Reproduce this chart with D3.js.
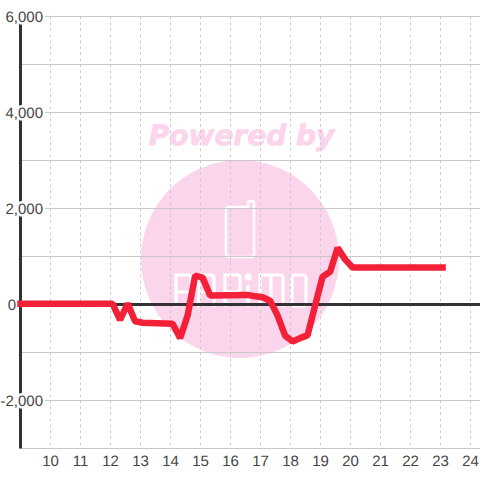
<!DOCTYPE html>
<html><head><meta charset="utf-8">
<script src="https://cdn.jsdelivr.net/npm/d3@7/dist/d3.min.js"></script>
<style>html,body{margin:0;padding:0;background:#fff}svg{display:block}text{text-rendering:geometricPrecision}</style></head>
<body><svg id="c" width="480" height="480"></svg>
<script>
const hours=[9,12.07,12.32,12.57,12.82,13.07,14.07,14.32,14.57,14.82,15.07,15.32,16.57,16.82,17.07,17.32,17.57,17.82,18.07,18.32,18.57,18.82,19.07,19.32,19.57,19.82,20.07,23.07];
const values=[15,15,-320,20,-350,-380,-400,-700,-230,600,560,190,200,170,150,80,-230,-650,-770,-700,-640,-20,580,680,1180,940,770,770];
const xTicks=[10,11,12,13,14,15,16,17,18,19,20,21,22,23,24];
const yTicks=[-2000,2000,4000,6000];
const zeroTick=[0];
const yGrid=[-3000,-2000,-1000,0,1000,2000,3000,4000,5000,6000];
const svg=d3.select("#c");
const x=d3.scaleLinear().domain([9,24.33]).range([20.5,480.4]);
const y=d3.scaleLinear().domain([-3000,6000]).range([448.5,16.5]);
const fmt=d3.format(",");
const pink="#fbd5ec";
const wm=svg.append("g");
wm.append("circle").attr("cx",240).attr("cy",259).attr("r",99).attr("fill",pink);
wm.append("text").attr("x",241.5).attr("y",145).attr("text-anchor","middle")
 .attr("font-family","DejaVu Sans").attr("font-weight","bold").attr("font-style","italic")
 .attr("font-size",28).attr("fill",pink).attr("stroke",pink).attr("stroke-width",0.8).text("Powered by");
wm.append("path").attr("d","M229 207H248V203Q248 201 251 201Q254 201 254 203V254Q254 257 251 257H229Q226 257 226 254V210Q226 207 229 207Z")
 .attr("fill","none").attr("stroke","#fff").attr("stroke-width",2.5);
wm.append("path").attr("d","M176 307V275H188Q191 275 191 278V289Q191 292 188 292H176M199 307V278Q199 275 202 275H211Q214 275 214 278V307M199 292H214M225 307V275H237Q240 275 240 278V289Q240 292 237 292H225M248 285V307M260 307V275H280Q283 275 283 278V307M271 275V307M292 278Q292 275 295 275H303Q306 275 306 278V303Q306 306 303 306H295Q292 306 292 303Z")
 .attr("fill","none").attr("stroke","#fff").attr("stroke-width",3.2);
wm.append("circle").attr("cx",248).attr("cy",277).attr("r",3.5).attr("fill","#fff");
svg.selectAll("line.v").data(xTicks).join("line").attr("class","v")
 .attr("x1",d=>x(d)).attr("x2",d=>x(d)).attr("y1",y(6000)).attr("y2",y(-3000))
 .attr("stroke","#c8c8c8").attr("stroke-dasharray","2.5,3.5");
svg.selectAll("line.h").data(yGrid).join("line").attr("class","h")
 .attr("x1",x(9)).attr("x2",480).attr("y1",d=>y(d)).attr("y2",d=>y(d))
 .attr("stroke","#c8c8c8").attr("stroke-width",1);
svg.append("line").attr("x1",x(9)).attr("x2",x(9)).attr("y1",y(6000)).attr("y2",y(-3000))
 .attr("stroke","#333").attr("stroke-width",3);
const lab={"font-family":"Liberation Sans","font-size":15,"fill":"#444"};
const yl=svg.selectAll("text.yl").data(yTicks).join("text").attr("class","yl")
 .attr("x",43).attr("y",d=>y(d)+5).attr("text-anchor","end")
 .attr("stroke","#fff").attr("stroke-width",5).attr("paint-order","stroke").text(d=>fmt(d).replace("−","-"));
const zl=svg.selectAll("text.zl").data(zeroTick).join("text").attr("class","zl")
 .attr("x",16).attr("y",d=>y(d)+5).attr("text-anchor","end").text(d=>d);
svg.append("line").attr("x1",x(9)).attr("x2",480).attr("y1",y(0)).attr("y2",y(0))
 .attr("stroke","#333").attr("stroke-width",3);
const line=d3.line().x((d,i)=>x(hours[i])).y(d=>y(d)).curve(d3.curveLinear);
svg.append("path").attr("d",line(values)).attr("fill","none").attr("stroke","#f32138")
 .attr("stroke-width",6.5).attr("stroke-linejoin","bevel").attr("stroke-linecap","square");
const xl=svg.selectAll("text.xl").data(xTicks).join("text").attr("class","xl")
 .attr("x",d=>x(d)).attr("y",466).attr("text-anchor","middle").text(d=>d);
for(const s of [yl,zl,xl]) for(const k in lab) s.attr(k,lab[k]);
</script></body></html>
